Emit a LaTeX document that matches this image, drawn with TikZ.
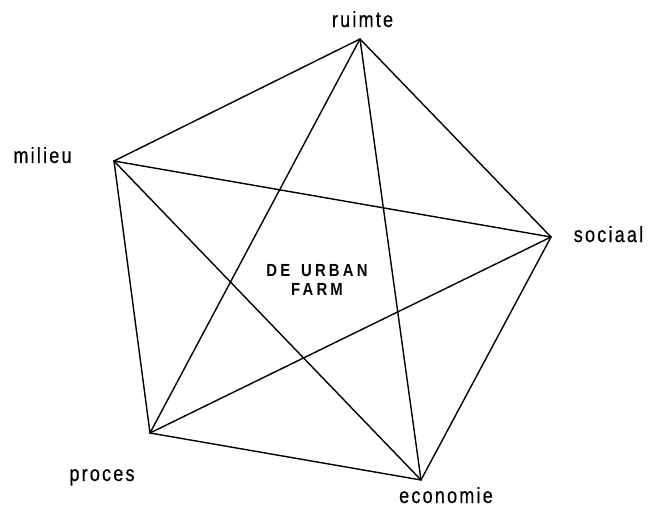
\documentclass[tikz,border=0pt]{standalone}
\usepackage{fontspec}
\newfontfamily\labelfont[FakeStretch=0.82,LetterSpace=10,FakeBold=0.4]{Liberation Sans}
\newfontfamily\farmfont[FakeStretch=0.85,LetterSpace=18,WordSpace=1.5]{Liberation Sans Bold}
\begin{document}
\begin{tikzpicture}[x=1pt,y=-1pt,line join=round,line cap=round,
	edge/.style={line width=1.4pt},
	lbl/.style={font=\labelfont\fontsize{22}{22}\selectfont,anchor=base,inner sep=0pt}]
	\useasboundingbox (0,0) rectangle (651,508);
	% corners of the pentagon
	\coordinate (ruimte) at (360,39);
	\coordinate (sociaal) at (551,237);
	\coordinate (economie) at (421,480);
	\coordinate (proces) at (150,433);
	\coordinate (milieu) at (114,161);
	\foreach \a/\b in {ruimte/sociaal,sociaal/economie,economie/proces,proces/milieu,milieu/ruimte,
		ruimte/economie,ruimte/proces,sociaal/proces,sociaal/milieu,economie/milieu}
		\draw[edge] (\a) -- (\b);
	% labels
	\node[lbl] (lruimte) at (362.5,27) {ruimte};
	\node[lbl] (lmilieu) at (42.5,163) {milieu};
	\node[lbl] (lsociaal) at (608.5,242) {sociaal};
	\node[lbl] (lproces) at (102,481) {proces};
	\node[lbl] (leconomie) at (446,503) {economie};
	\node[font=\farmfont\fontsize{17.5}{19}\selectfont,align=center,inner sep=0pt] (farm) at (317,280) {DE URBAN\\FARM};
\end{tikzpicture}
\end{document}
